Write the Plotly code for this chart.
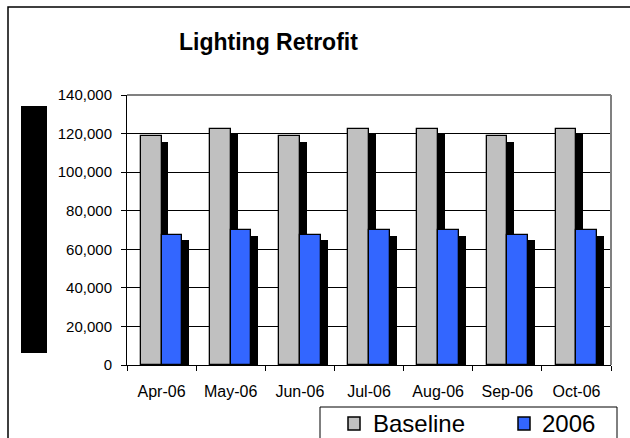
import plotly.graph_objects as go

# Monthly consumption: baseline vs. 2006 after the lighting retrofit
months = ["Apr-06", "May-06", "Jun-06", "Jul-06", "Aug-06", "Sep-06", "Oct-06"]
baseline = [118500, 122450, 118500, 122450, 122450, 118500, 122450]
actual_2006 = [67500, 69750, 67500, 69750, 69750, 67500, 69750]
y_ticks = [0, 20000, 40000, 60000, 80000, 100000, 120000, 140000]

W, H = 630, 438
PL, PR, PT, PB = 127, 611, 95, 365   # plot area in pixels

BAR_W = 0.3        # bar width in category units
DEPTH_X = 0.1      # 3-D shadow shift to the right (category units)
DEPTH_Y = 2800     # 3-D shadow drop (data units)

FONT = "Liberation Sans, Arial, sans-serif"
GREY = "#C0C0C0"
BLUE = "#3366FF"


def px(x):
    return (x - PL) / (PR - PL)


def py(y):
    return (PB - y) / (PB - PT)


fig = go.Figure()

# shadow, then face, for each series
fig.add_trace(go.Bar(x=months, y=[v - DEPTH_Y for v in baseline],
                     offset=-BAR_W + DEPTH_X, width=BAR_W,
                     marker=dict(color="black", line=dict(width=0)),
                     showlegend=False, hoverinfo="skip"))
fig.add_trace(go.Bar(x=months, y=baseline, name="Baseline",
                     offset=-BAR_W, width=BAR_W,
                     marker=dict(color=GREY, line=dict(color="black", width=1.3)),
                     showlegend=False))
fig.add_trace(go.Bar(x=months, y=[v - DEPTH_Y for v in actual_2006],
                     offset=DEPTH_X, width=BAR_W,
                     marker=dict(color="black", line=dict(width=0)),
                     showlegend=False, hoverinfo="skip"))
fig.add_trace(go.Bar(x=months, y=actual_2006, name="2006",
                     offset=0, width=BAR_W,
                     marker=dict(color=BLUE, line=dict(color="black", width=1.3)),
                     showlegend=False))

shapes = [
    # outer chart border (runs off the right and bottom)
    dict(type="rect", xref="paper", yref="paper",
         x0=px(8), x1=px(660), y0=py(7), y1=py(470),
         line=dict(color="black", width=1.5), fillcolor="rgba(0,0,0,0)", layer="below"),
    # axis title block
    dict(type="rect", xref="paper", yref="paper",
         x0=px(21), x1=px(47), y0=py(106), y1=py(353),
         line=dict(width=0), fillcolor="black"),
    # grey plot-area border, top and right
    dict(type="line", xref="paper", yref="paper", x0=0, x1=1, y0=1, y1=1,
         line=dict(color="#808080", width=2)),
    dict(type="line", xref="paper", yref="paper", x0=1, x1=1, y0=0, y1=1,
         line=dict(color="#808080", width=2)),
    # legend box
    dict(type="rect", xref="paper", yref="paper",
         x0=px(320), x1=px(617), y0=py(407), y1=py(470),
         line=dict(color="black", width=1), fillcolor="white"),
    # legend swatches
    dict(type="rect", xref="paper", yref="paper",
         x0=px(348), x1=px(360), y0=py(417), y1=py(430),
         line=dict(color="black", width=1.5), fillcolor=GREY),
    dict(type="rect", xref="paper", yref="paper",
         x0=px(518), x1=px(530), y0=py(417), y1=py(430),
         line=dict(color="black", width=1.5), fillcolor=BLUE),
]

annotations = [
    dict(text="<b>Lighting Retrofit</b>", xref="paper", yref="paper",
         x=px(268.5), y=py(42), xanchor="center", yanchor="middle",
         showarrow=False, font=dict(family=FONT, size=23, color="black")),
    dict(text="Baseline", xref="paper", yref="paper",
         x=px(371), y=py(423), xanchor="left", yanchor="middle",
         showarrow=False, font=dict(family=FONT, size=24, color="black")),
    dict(text="2006", xref="paper", yref="paper",
         x=px(540), y=py(423), xanchor="left", yanchor="middle",
         showarrow=False, font=dict(family=FONT, size=24, color="black")),
]

fig.update_layout(
    width=W, height=H,
    margin=dict(l=PL, r=W - PR, t=PT, b=H - PB, pad=0),
    paper_bgcolor="white", plot_bgcolor="white",
    barmode="overlay", bargap=0,
    showlegend=False,
    shapes=shapes, annotations=annotations,
    font=dict(family=FONT, color="black"),
)

fig.update_xaxes(type="category", range=[-0.5, len(months) - 0.5],
                 tickson="boundaries", ticks="outside", ticklen=5,
                 tickcolor="black", showline=True, linecolor="black",
                 linewidth=1, showgrid=False, ticklabelstandoff=12,
                 tickfont=dict(family=FONT, size=16, color="black"))
fig.update_yaxes(range=[0, 140000], tickvals=y_ticks, tickformat=",",
                 ticks="outside", ticklen=5, tickcolor="black",
                 showline=True, linecolor="black", linewidth=1,
                 showgrid=True, gridcolor="black", gridwidth=1,
                 zeroline=False, ticklabelstandoff=6,
                 tickfont=dict(family=FONT, size=15, color="black"))

fig.write_html("out.html")
